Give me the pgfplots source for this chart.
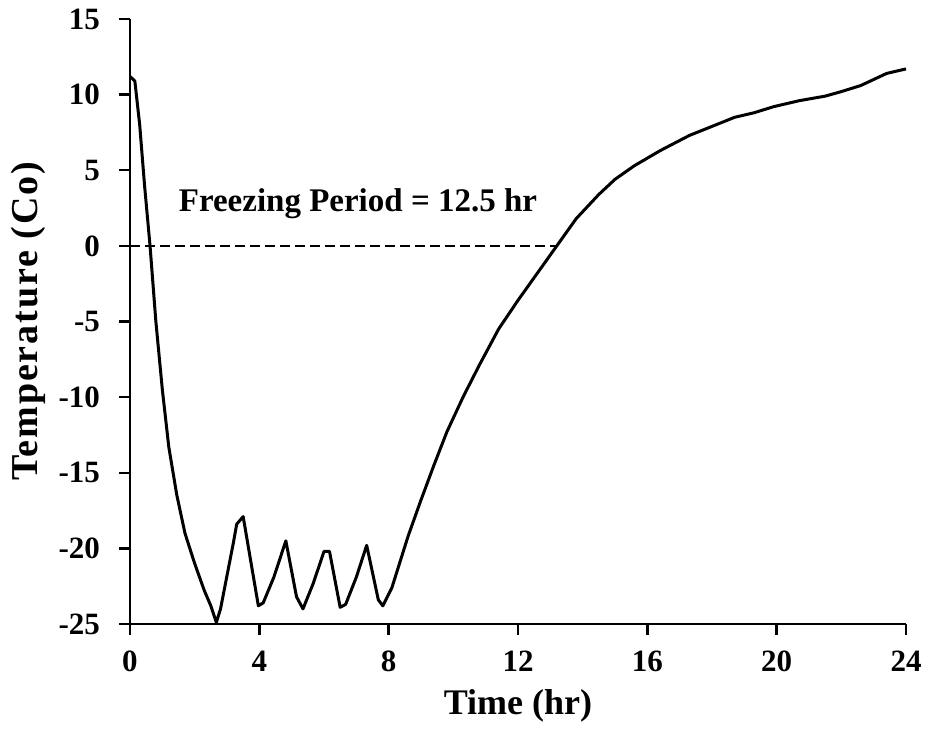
\documentclass[border=0pt]{standalone}
\usepackage{fontspec}
\setmainfont{Liberation Serif}
\usepackage{pgfplots}
\pgfplotsset{compat=1.18}
\begin{document}
\begin{tikzpicture}
\useasboundingbox (-65pt,-56.5pt) rectangle (398pt,312pt);
\begin{axis}[
  at={(0,0)}, anchor=south west,
  scale only axis, width=388pt, height=302.5pt,
  xmin=0, xmax=24, ymin=-25, ymax=15,
  axis lines=left,
  axis line style={-, line width=1.2pt},
  xtick={0,4,...,24}, ytick={-25,-20,...,15},
  tick align=outside, major tick length=5.5pt,
  tick style={line width=1.2pt, black},
  ticklabel style={font=\fontsize{15.5}{18}\selectfont\bfseries},
  xticklabel style={yshift=-4.5pt},
  yticklabel style={xshift=-6pt},
  /pgf/number format/assume math mode=true,
  xlabel={Time (hr)},
  ylabel={\fontsize{19}{22}\selectfont\addfontfeature{LetterSpace=5}Temperature (Co)},
  label style={font=\fontsize{18}{21}\selectfont\bfseries},
  xlabel style={at={(axis description cs:0.5,-0.149)}, anchor=base},
  ylabel style={at={(axis description cs:-0.1198,0.5)}, anchor=base},
  clip=false,
]
% freezing window marker at 0 degrees
\addplot[black, line width=1.2pt, dash pattern=on 5pt off 2.5pt] coordinates {(0,0) (13.2,0)};
% measured temperature history
\addplot[black, line width=1.5pt, line join=round] coordinates {
(0,11.2) (0.15,10.9) (0.3,8.0) (0.45,4.0) (0.62,0) (0.8,-5) (1.0,-9.5)
(1.2,-13.3) (1.45,-16.5) (1.7,-19.0) (2.0,-21.0) (2.3,-22.8) (2.5,-23.8)
(2.67,-24.9) (2.8,-24.0) (3.0,-21.8) (3.2,-19.6) (3.3,-18.4) (3.5,-17.9)
(3.97,-23.8) (4.12,-23.6) (4.45,-21.9) (4.82,-19.5) (5.15,-23.2) (5.35,-24.0)
(5.67,-22.3) (6.0,-20.2) (6.17,-20.2) (6.5,-23.9) (6.67,-23.7) (7.0,-21.9)
(7.32,-19.8) (7.68,-23.4) (7.82,-23.8) (8.1,-22.6) (8.6,-19.2) (9.0,-16.8)
(9.4,-14.5) (9.8,-12.3) (10.3,-10.0) (10.8,-7.9) (11.4,-5.5) (12.0,-3.6)
(12.6,-1.8) (13.2,0) (13.8,1.8) (14.5,3.4) (15.0,4.4) (15.6,5.3) (16.4,6.3)
(17.3,7.3) (18.0,7.9) (18.7,8.5) (19.3,8.8) (19.9,9.2) (20.7,9.6) (21.5,9.9)
(22.0,10.2) (22.6,10.6) (23.0,11.0) (23.4,11.4) (24.0,11.7)
};
\node[font=\fontsize{16.5}{19}\selectfont\bfseries] at (axis cs:7.05,2.76) {Freezing Period = 12.5 hr};
\end{axis}
\end{tikzpicture}
\end{document}
